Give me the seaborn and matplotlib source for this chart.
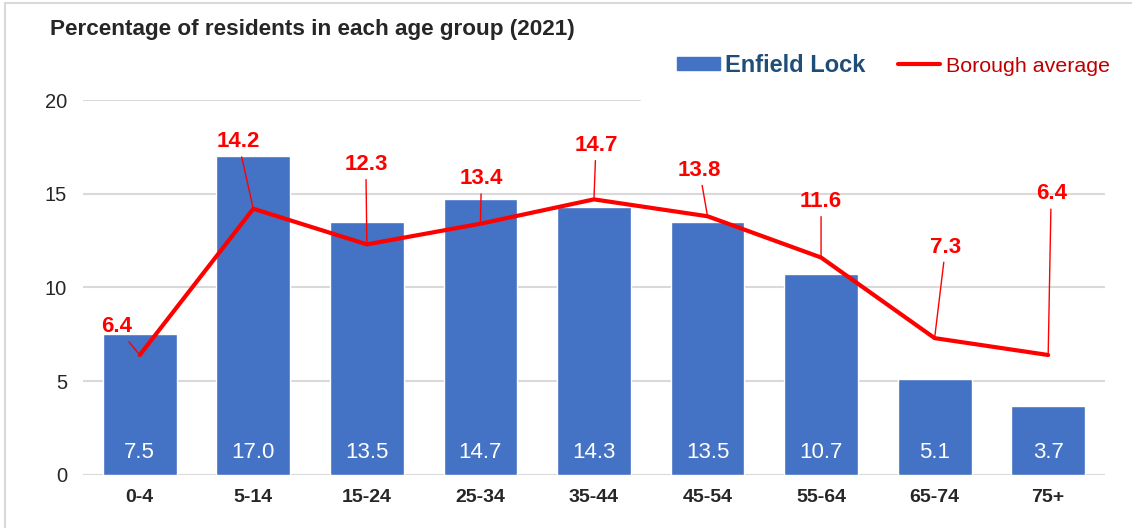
import pandas as pd
import matplotlib.pyplot as plt
import seaborn as sns

## data
age_groups = ['0-4', '5-14', '15-24', '25-34', '35-44', '45-54', '55-64', '65-74', '75+']
enfield_lock = [7.5, 17.0, 13.5, 14.7, 14.3, 13.5, 10.7, 5.1, 3.7]
borough_avg = [6.4, 14.2, 12.3, 13.4, 14.7, 13.8, 11.6, 7.3, 6.4]

# label offsets for the red labels (pixels, relative to the point)
label_offsets = [(-23, 28), (-15, 67), (-1, 80), (1, 45), (2, 54),
                 (-8, 46), (0, 56), (11, 91), (3, 161)]

df = pd.DataFrame({'age': age_groups, 'ward': enfield_lock, 'borough': borough_avg})

sns.set_style('white')
plt.rcParams['font.family'] = ['Liberation Sans', 'DejaVu Sans']

fig = plt.figure(figsize=(11.32, 5.28), dpi=100)
ax = fig.add_axes([0.0733, 0.1004, 0.9028, 0.7102])

# grid lines (the top one is hidden behind the legend in the original)
for y in [0, 5, 10, 15]:
    ax.axhline(y, color='#D9D9D9', lw=1.5, zorder=0)
ax.axhline(20, xmax=0.545, color='#D9D9D9', lw=1.5, zorder=0)

sns.barplot(data=df, x='age', y='ward', color='#4472C4', saturation=1,
            width=0.65, ax=ax, zorder=2)
sns.lineplot(data=df, x='age', y='borough', color='#FF0000', lw=3,
             sort=False, ax=ax, zorder=3)

## bar values at the bottom of each bar
for i, v in enumerate(enfield_lock):
    ax.annotate(f'{v:.1f}', xy=(i, 0), xytext=(0, 22), textcoords='offset pixels',
                ha='center', va='center', color='white', fontsize=16, zorder=4)

## borough labels with leader lines
for i, v in enumerate(borough_avg):
    dx, dy = label_offsets[i]
    ax.annotate(f'{v:.1f}', xy=(i, v), xytext=(dx, dy), textcoords='offset pixels',
                ha='center', va='center', color='#FF0000', fontsize=16,
                fontweight='bold', zorder=5,
                arrowprops=dict(arrowstyle='-', color='#FF0000', lw=1,
                                shrinkA=1, shrinkB=0))

ax.set_xlim(-0.5, 8.5)
ax.set_ylim(0, 20)
ax.set_yticks([0, 5, 10, 15, 20])
ax.set_xlabel('')
ax.set_ylabel('')
ax.tick_params(axis='y', length=0, pad=11.5, labelsize=14.5, labelcolor='#262626')
ax.tick_params(axis='x', length=0, pad=10, labelsize=14)
for lab in ax.get_xticklabels():
    lab.set_fontweight('bold')
sns.despine(ax=ax, left=True, bottom=True)

## title
fig.text(50 / 1132, 1 - 30 / 528, 'Percentage of residents in each age group (2021)',
         fontsize=16.2, fontweight='bold', ha='left', va='center')

## legend
handles = [plt.Rectangle((0, 0), 1, 1, color='#4472C4'),
           plt.Line2D([0], [0], color='#FF0000', lw=3)]
leg = fig.legend(handles, ['Enfield Lock', 'Borough average'], ncol=2,
                 loc='center left', bbox_to_anchor=(677 / 1132, 1 - 65 / 528),
                 frameon=False, borderpad=0, borderaxespad=0, prop={'size': 15.4},
                 handlelength=2.0, handleheight=0.55, handletextpad=0.25,
                 columnspacing=1.5)
t1, t2 = leg.get_texts()
t1.set_fontweight('bold')
t1.set_fontsize(17)
t1.set_color('#1F4E79')
t2.set_color('#C00000')

# thin border along top and left like the cropped screenshot
fig.add_artist(plt.Line2D([5 / 1132, 5 / 1132], [0, 1 - 3 / 528], color='#D9D9D9', lw=1.5))
fig.add_artist(plt.Line2D([5 / 1132, 1], [1 - 3 / 528, 1 - 3 / 528], color='#D9D9D9', lw=1.5))

plt.savefig('out.png', dpi=100)
